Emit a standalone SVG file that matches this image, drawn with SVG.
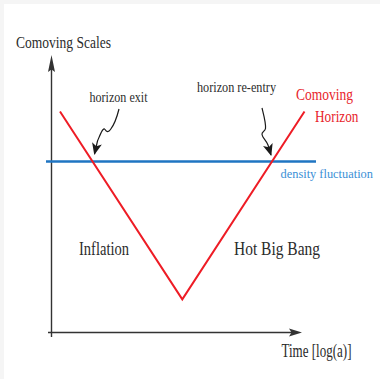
<svg xmlns="http://www.w3.org/2000/svg" width="380" height="379" viewBox="0 0 380 379">
  <style>
    .lbl { font-family: "Liberation Serif", "Times New Roman", serif; fill: #2b2b2b; }
    .red { fill: #e8242c; }
    .blue { fill: #3a8fd6; }
    .axis { stroke: #333333; stroke-width: 1.4; fill: none; }
    .curly { stroke: #1a1a1a; stroke-width: 1.2; fill: none; }
  </style>
  <defs>
    <marker id="stealth" viewBox="0 0 12 10" refX="11" refY="5" markerWidth="12" markerHeight="10" markerUnits="userSpaceOnUse" orient="auto">
      <path d="M0,0 L12,5 L0,10 L3,5 Z" fill="#1a1a1a"/>
    </marker>
  </defs>
  <rect x="0" y="0" width="380" height="379" fill="#f5f5f5"/>
  <rect x="4" y="4" width="376" height="375" fill="#ffffff"/>

  <g id="axes">
    <line class="axis" x1="51.5" y1="337" x2="51.5" y2="66"/>
    <polygon points="51.5,55 55,72 51.5,69.5 48,72" fill="#333333"/>
    <line class="axis" x1="48" y1="332.5" x2="292" y2="332.5"/>
    <polygon points="302,332.5 289,328.5 291.5,332.5 289,336.5" fill="#333333"/>
  </g>

  <g id="density-line">
    <line x1="46" y1="161.5" x2="316" y2="161.5" stroke="#1f75c2" stroke-width="2.4"/>
  </g>

  <g id="comoving-horizon">
    <polyline points="60,111.5 182.3,299.3 304.5,111.5" fill="none" stroke="#ee1c25" stroke-width="2" stroke-linejoin="miter"/>
  </g>

  <g id="connectors">
    <path class="curly" d="M119,109 C117,117 114,125 110.5,129.5 C108.5,132.5 106.5,132 105,129.5 C103,127 100.5,134 97.5,141 L94.5,154" marker-end="url(#stealth)"/>
    <path class="curly" d="M262,108 C264,116 266,123 265.5,128.5 C265,132 261.5,131 262,134.5 C262.5,138 266,140 268,145 L271,155" marker-end="url(#stealth)"/>
  </g>

  <g id="labels">
    <text class="lbl" x="16" y="47.5" font-size="17" textLength="95" lengthAdjust="spacingAndGlyphs">Comoving Scales</text>
    <text class="lbl" x="89.5" y="101.7" font-size="15" textLength="58" lengthAdjust="spacingAndGlyphs">horizon exit</text>
    <text class="lbl" x="197" y="92" font-size="15" textLength="79" lengthAdjust="spacingAndGlyphs">horizon re-entry</text>
    <text class="lbl red" x="296" y="100" font-size="17" textLength="57" lengthAdjust="spacingAndGlyphs">Comoving</text>
    <text class="lbl red" x="315" y="122" font-size="17" textLength="43.5" lengthAdjust="spacingAndGlyphs">Horizon</text>
    <text class="lbl blue" x="280.5" y="178" font-size="13" textLength="92.5" lengthAdjust="spacingAndGlyphs">density fluctuation</text>
    <text class="lbl" x="79" y="254.5" font-size="19" textLength="50" lengthAdjust="spacingAndGlyphs">Inflation</text>
    <text class="lbl" x="234" y="254.5" font-size="19" textLength="86" lengthAdjust="spacingAndGlyphs">Hot Big Bang</text>
    <text class="lbl" x="281.5" y="356.7" font-size="18" textLength="70" lengthAdjust="spacingAndGlyphs">Time [log(a)]</text>
  </g>
</svg>
